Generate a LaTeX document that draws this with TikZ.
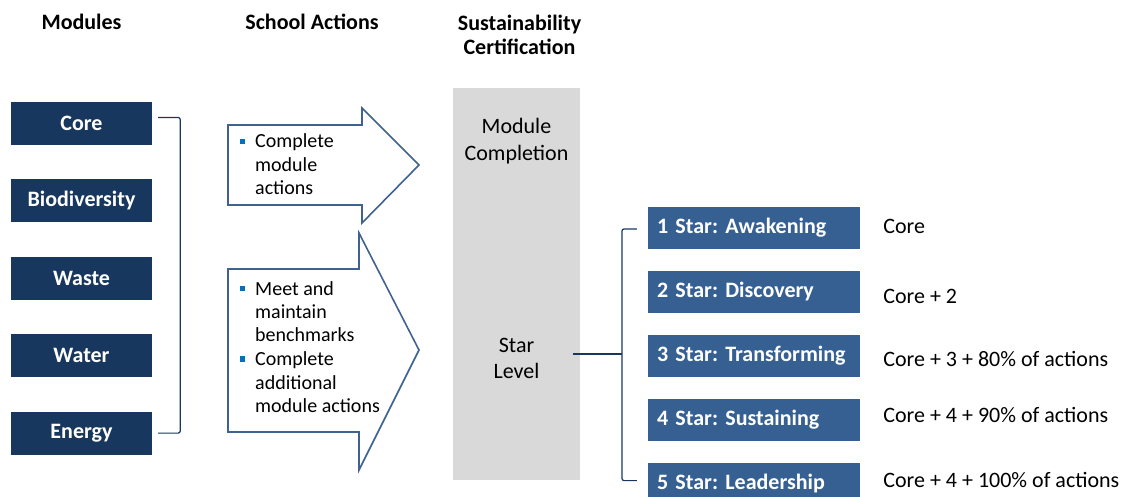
\documentclass[tikz,border=0pt]{standalone}
\usepackage{fontspec}
\setmainfont{Carlito}
\usetikzlibrary{positioning}

\definecolor{navy}{HTML}{17375E}
\definecolor{starblue}{HTML}{376092}
\definecolor{arrowblue}{HTML}{3F6290}
\definecolor{panelgray}{HTML}{D9D9D9}
\definecolor{bulletblue}{HTML}{0070C0}

\frenchspacing
\newcommand{\basefont}{\fontsize{22}{23.5}\selectfont}
\newcommand{\panelfont}{\fontsize{22}{26.5}\selectfont}
\newcommand{\listfont}{\fontsize{20}{23.5}\selectfont}
% square bullet
\newcommand{\sqb}{\makebox[15pt][l]{\textcolor{bulletblue}{\rule[4pt]{5pt}{5pt}}}}

\tikzset{
  header/.style={font=\basefont\bfseries, align=center},
  module/.style={fill=navy, text=white, font=\basefont\bfseries,
    minimum width=141pt, minimum height=43pt, inner sep=0pt},
  starbox/.style={fill=starblue, text=white, font=\basefont\bfseries,
    text width=194pt, inner xsep=9pt, inner ysep=0pt, minimum height=42pt, align=left},
  req/.style={font=\basefont, anchor=west, inner sep=0pt},
  actions/.style={font=\listfont, inner sep=0pt, anchor=base west},
  bracket/.style={draw=navy, line width=1.2pt, rounded corners=2pt},
  bigarrow/.style={draw=arrowblue, line width=1.6pt, fill=white, line join=miter}
}

\begin{document}
\begin{tikzpicture}[x=1pt, y=-1pt]
  \useasboundingbox (0,0) rectangle (1133,497);

  % column headers
  \node[header] (hmod) at (81.5,22) {Modules};
  \node[header] (hact) at (312,22) {School Actions};
  \node[header] (hcert) at (519.5,35) {Sustainability\\Certification};

  % modules
  \node[module] (core) at (81.5,123.5) {Core};
  \node[module] (bio) [below=34pt of core] {Biodiversity};
  \node[module] (waste) [below=34pt of bio] {Waste};
  \node[module] (water) [below=34pt of waste] {Water};
  \node[module] (energy) [below=34pt of water] {Energy};
  \draw[bracket] ([xshift=6pt,yshift=6pt]core.east) -- ++(22,0) |- ([xshift=6pt]energy.east);

  % school actions
  \draw[bigarrow] (228,125) -- (362,125) -- (362,108) -- (419,165)
    -- (362,223) -- (362,205) -- (228,205) -- cycle;
  \draw[bigarrow] (228,269) -- (359,269) -- (359,233) -- (419,350)
    -- (359,470) -- (359,432) -- (228,432) -- cycle;
  \node[actions] (act1) at (240,148) {\begin{tabular}[t]{@{}l@{}l@{}}
    \sqb & Complete\\ & module\\ & actions\end{tabular}};
  \node[actions] (act2) at (240,295) {\begin{tabular}[t]{@{}l@{}l@{}}
    \sqb & Meet and\\ & maintain\\ & benchmarks\\
    \sqb & Complete\\ & additional\\ & module actions\end{tabular}};

  % certification panel
  \node[fill=panelgray, minimum width=127pt, minimum height=392pt, inner sep=0pt] (cert) at (516.5,284) {};
  \node[font=\panelfont, align=center] (compl) at (516.5,141) {Module\\Completion};
  \node[font=\panelfont, align=center] (lvl) at (516.5,358.5) {Star\\Level};

  % star levels
  \node[starbox] (s1) at (754,228) {1 Star: Awakening};
  \node[starbox] (s2) [below=21.5pt of s1] {2 Star: Discovery};
  \node[starbox] (s3) [below=21.5pt of s2] {3 Star: Transforming};
  \node[starbox] (s4) [below=21.5pt of s3] {4 Star: Sustaining};
  \node[starbox] (s5) [below=21.5pt of s4] {5 Star: Leadership};

  \node[req] (r1) [right=23pt of s1, yshift=2pt] {Core};
  \node[req] (r2) [right=23pt of s2, yshift=-4.5pt] {Core + 2};
  \node[req] (r3) [right=23pt of s3, yshift=-3pt] {Core + 3 + 80\% of actions};
  \node[req] (r4) [right=23pt of s4, yshift=4.5pt] {Core + 4 + 90\% of actions};
  \node[req] (r5) [right=23pt of s5, yshift=4pt] {Core + 4 + 100\% of actions};

  \coordinate (lvlout) at (573,354);
  \coordinate (fork) at (622,354);
  \draw[bracket] (lvlout) -- (fork);
  \draw[bracket] ([xshift=-11pt,yshift=-1pt]s1.west) -| (fork) |- ([xshift=-11pt,yshift=3pt]s5.west);
\end{tikzpicture}
\end{document}
